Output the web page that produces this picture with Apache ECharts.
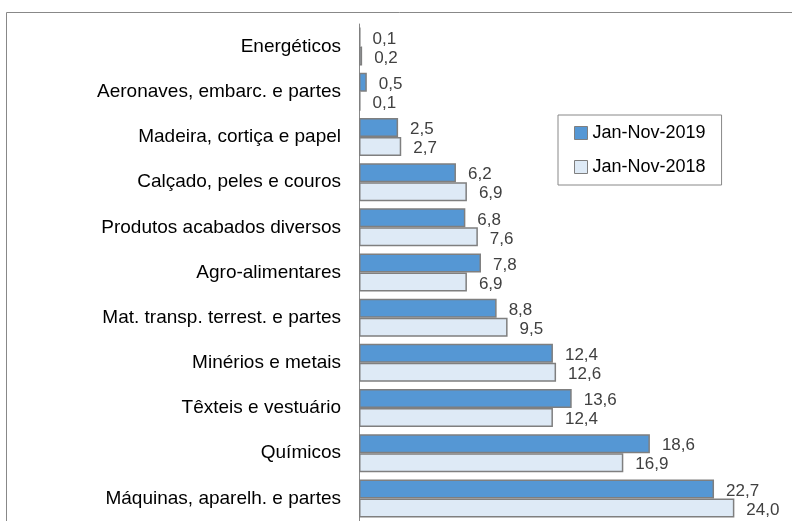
<!DOCTYPE html>
<html>
<head>
<meta charset="utf-8">
<script src="https://cdn.jsdelivr.net/npm/echarts@6/dist/echarts.min.js"></script>
<style>
    html, body { margin: 0; padding: 0; background: #fff; }
    #chart { width: 792px; height: 521px; }
</style>
</head>
<body>
<div id="chart"></div>
<script>
    // categorias (de cima para baixo)
    var categories = [
        'Energéticos',
        'Aeronaves, embarc. e partes',
        'Madeira, cortiça e papel',
        'Calçado, peles e couros',
        'Produtos acabados diversos',
        'Agro-alimentares',
        'Mat. transp. terrest. e partes',
        'Minérios e metais',
        'Têxteis e vestuário',
        'Químicos',
        'Máquinas, aparelh. e partes'
    ];
    var values2019 = [0.1, 0.5, 2.5, 6.2, 6.8, 7.8, 8.8, 12.4, 13.6, 18.6, 22.7];
    var values2018 = [0.2, 0.1, 2.7, 6.9, 7.6, 6.9, 9.5, 12.6, 12.4, 16.9, 24.0];
    var seriesNames = ['Jan-Nov-2019', 'Jan-Nov-2018'];

    var font = 'Liberation Sans';
    var fmt = function (p) {
        return p.value.toFixed(1).replace('.', ',');
    };

    var myChart = echarts.init(document.getElementById('chart'));
    var option = {
        animation: false,
        textStyle: { fontFamily: font },
        grid: {
            left: 359,
            right: 42,
            top: 24,
            bottom: -2,
            containLabel: false
        },
        graphic: [{
            type: 'rect',
            z: -1,
            shape: { x: 6.5, y: 12.5, width: 820, height: 540 },
            style: { fill: 'none', stroke: '#888', lineWidth: 1 }
        }],
        legend: {
            orient: 'vertical',
            left: 558,
            top: 115,
            data: seriesNames,
            icon: 'rect',
            itemWidth: 13,
            itemHeight: 13,
            itemGap: 16,
            padding: [9, 16, 9, 16],
            borderColor: '#888',
            borderWidth: 1,
            backgroundColor: '#fff',
            itemStyle: { borderColor: '#7f7f7f', borderWidth: 1 },
            textStyle: { fontFamily: font, fontSize: 18, color: '#000' }
        },
        xAxis: {
            type: 'value',
            min: 0,
            max: 25,
            show: false
        },
        yAxis: {
            type: 'category',
            inverse: true,
            data: categories,
            axisLine: { lineStyle: { color: '#888', width: 1 } },
            axisTick: { length: 6, lineStyle: { color: '#888' } },
            axisLabel: { margin: 18, fontFamily: font, fontSize: 19, color: '#000' }
        },
        series: [{
            name: seriesNames[0],
            type: 'bar',
            data: values2019,
            barWidth: 19,
            barGap: '0%',
            itemStyle: { color: '#5597D4', borderColor: '#7f7f7f', borderWidth: 1.5 },
            label: {
                show: true, position: 'right', distance: 12, offset: [0, 2],
                fontFamily: font, fontSize: 17, color: '#404040',
                formatter: fmt
            }
        }, {
            name: seriesNames[1],
            type: 'bar',
            data: values2018,
            barWidth: 19,
            barGap: '0%',
            itemStyle: { color: '#DEEAF6', borderColor: '#7f7f7f', borderWidth: 1.5 },
            label: {
                show: true, position: 'right', distance: 12, offset: [0, 2],
                fontFamily: font, fontSize: 17, color: '#404040',
                formatter: fmt
            }
        }]
    };
    myChart.setOption(option);
</script>
</body>
</html>
